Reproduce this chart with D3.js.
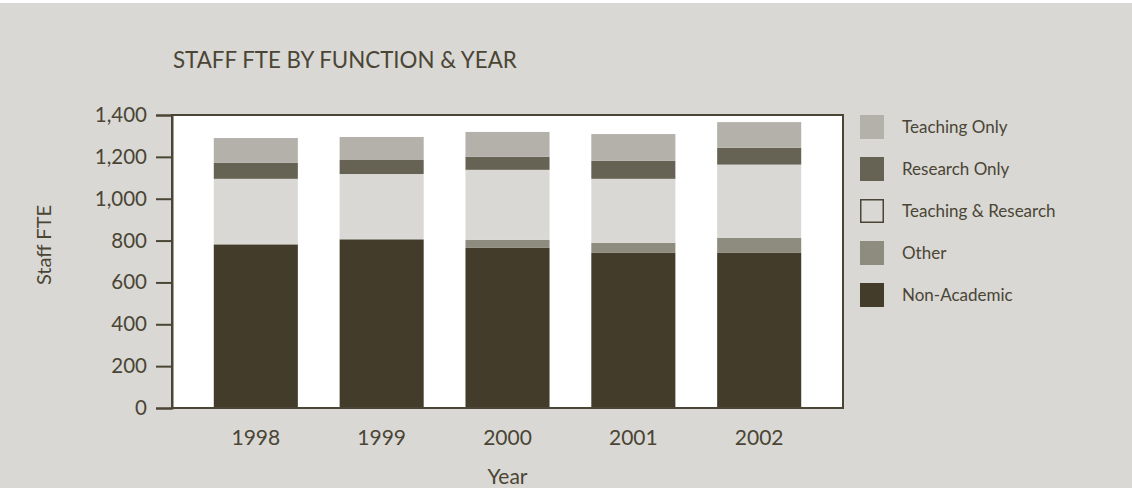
<!DOCTYPE html>
<html><head><meta charset="utf-8">
<script src="https://cdn.jsdelivr.net/npm/d3@7"></script>
<style>
html,body{margin:0;padding:0;background:#d9d8d4;}
svg{display:block;}
text{font-family:Lato, "Open Sans", sans-serif;fill:#4a4535;}
</style></head>
<body>
<svg id="chart" width="1132" height="488"></svg>
<script>
const years = ["1998","1999","2000","2001","2002"];
const seriesNames = ["Non-Academic","Other","Teaching & Research","Research Only","Teaching Only"];
const nonAcademic = [780, 803, 765, 741, 741];
const other = [5, 5, 38, 48, 72];
const teachingResearch = [310, 310, 335, 306, 350];
const researchOnly = [76, 67, 62, 86, 80];
const teachingOnly = [119, 110, 119, 128, 123];
const yTicks = [0,200,400,600,800,1000,1200,1400];
const colors = ["#433c2b","#8e8c7e","#d9d8d4","#666354","#b4b1aa"];
const legendOrder = ["Teaching Only","Research Only","Teaching & Research","Other","Non-Academic"];

const values = [nonAcademic, other, teachingResearch, researchOnly, teachingOnly];
const rows = years.map((y,i)=>{const r={year:y}; seriesNames.forEach((s,j)=>r[s]=values[j][i]); return r;});
const stacked = d3.stack().keys(seriesNames)(rows);

const svg = d3.select("#chart");
const W = 1132, H = 488;
const L = 172, R = 843, T = 115, B = 408;
svg.append("rect").attr("x",0).attr("y",0).attr("width",W).attr("height",H).attr("fill","#d9d8d4");
svg.append("rect").attr("x",0).attr("y",0).attr("width",W).attr("height",3).attr("fill","#ffffff");

const x = d3.scaleBand().domain(years).range([L,R]).paddingInner(0.332).paddingOuter(0.332);
const y = d3.scaleLinear().domain([0,1400]).range([B,T]);
const color = d3.scaleOrdinal().domain(seriesNames).range(colors);

svg.append("rect").attr("x",L+1).attr("y",T+1).attr("width",R-L).attr("height",B-T).attr("fill","#b8b5ad");
svg.append("rect").attr("x",L).attr("y",T).attr("width",R-L).attr("height",B-T).attr("fill","#ffffff");

svg.append("g").selectAll("g").data(stacked).join("g")
  .attr("fill",d=>color(d.key))
  .selectAll("rect").data(d=>d).join("rect")
  .attr("x",d=>x(d.data.year))
  .attr("width",x.bandwidth())
  .attr("y",d=>y(d[1]))
  .attr("height",d=>y(d[0])-y(d[1]));

svg.append("rect").attr("x",L).attr("y",T).attr("width",R-L).attr("height",B-T)
  .attr("fill","none").attr("stroke","#4a4535").attr("stroke-width",2);

const yAxis = d3.axisLeft(y).tickValues(yTicks).tickSize(16).tickPadding(9).tickFormat(d3.format(","));
const gy = svg.append("g").attr("transform",`translate(${L},0)`).call(yAxis);
gy.select(".domain").attr("stroke","#4a4535").attr("stroke-width",2);
gy.selectAll(".tick line").attr("stroke","#4a4535").attr("stroke-width",2);
gy.selectAll(".tick text").attr("font-size",20.5).attr("fill","#4a4535").style("font-family","Lato, sans-serif");

const xAxis = d3.axisBottom(x).tickSize(0).tickPadding(22);
const gx = svg.append("g").attr("transform",`translate(0,${B})`).call(xAxis);
gx.select(".domain").remove();
gx.selectAll(".tick text").attr("font-size",21).attr("fill","#4a4535").style("font-family","Lato, sans-serif");

svg.append("text").attr("x",173).attr("y",68).attr("font-size",22.3).text("STAFF FTE BY FUNCTION & YEAR");
svg.append("text").attr("x",(L+R)/2).attr("y",484).attr("text-anchor","middle").attr("font-size",21).text("Year");
svg.append("text").attr("transform","translate(51,245) rotate(-90)").attr("text-anchor","middle").attr("font-size",20).text("Staff FTE");

const lg = svg.append("g").selectAll("g").data(legendOrder).join("g")
  .attr("transform",(d,i)=>`translate(860,${115+i*42})`);
lg.append("rect")
  .attr("fill",d=>color(d))
  .attr("stroke",d=>d==="Teaching & Research"?"#4a4535":"none")
  .attr("stroke-width",1.5)
  .attr("x",d=>d==="Teaching & Research"?0.75:0).attr("y",d=>d==="Teaching & Research"?0.75:0)
  .attr("width",d=>d==="Teaching & Research"?22.5:24).attr("height",d=>d==="Teaching & Research"?22.5:24);
lg.append("text").attr("x",42).attr("y",18).attr("font-size",17).text(d=>d);
</script>
</body></html>
